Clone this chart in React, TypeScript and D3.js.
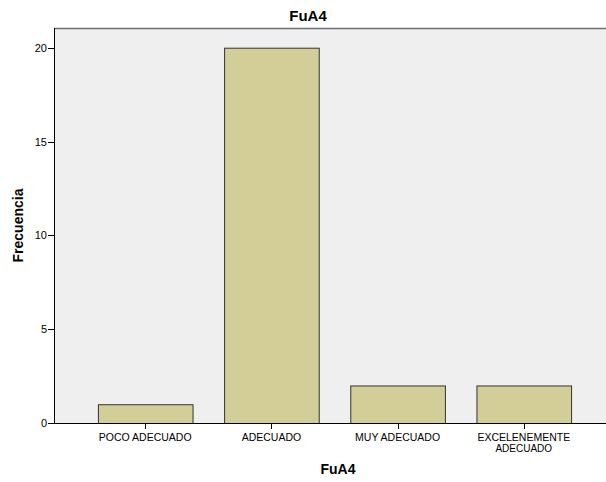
import React, { useEffect } from "react";
import * as d3 from "d3";

const categories: string[][] = [["POCO ADECUADO"], ["ADECUADO"], ["MUY ADECUADO"], ["EXCELENEMENTE", "ADECUADO"]];
const values: number[] = [1, 20, 2, 2];
const yTicks: number[] = [0, 5, 10, 15, 20];
const title = "FuA4";
const xTitle = "FuA4";
const yTitle = "Frecuencia";

const W = 606;
const H = 482;
const left = 54;
const top = 28;
const bottom = 423;
const right = 615;

export default function App() {
  useEffect(() => {
    document.body.style.margin = "0";
  }, []);
  const x = d3
    .scaleBand<number>()
    .domain(values.map((_, i) => i))
    .range([left, right])
    .paddingInner(0.25)
    .paddingOuter(0.348);
  const y = d3.scaleLinear().domain([0, 21.05]).range([bottom, top]);
  const font = "'Liberation Sans', Arial, sans-serif";
  return (
    <svg width={W} height={H} style={{ display: "block" }} fontFamily={font}>
      <rect x={0} y={0} width={W} height={H} fill="#ffffff" />
      <rect x={left} y={top} width={right - left} height={bottom - top} fill="#efefef" />
      <line x1={left} x2={right} y1={top + 0.5} y2={top + 0.5} stroke="#6e6e6e" strokeWidth={1.5} />
      <text x={308} y={21} textAnchor="middle" fontSize={15} fontWeight="bold" fill="#000">
        {title}
      </text>
      {values.map((v, i) => (
        <rect
          key={i}
          x={(x(i) as number) + 0.5}
          y={y(v) + 0.5}
          width={x.bandwidth()}
          height={y(0) - y(v)}
          fill="#d3ce97"
          stroke="#333333"
          strokeWidth={1}
        />
      ))}
      <line x1={left + 0.5} x2={left + 0.5} y1={top} y2={bottom + 0.5} stroke="#000" strokeWidth={1} />
      <line x1={left} x2={right} y1={bottom + 0.5} y2={bottom + 0.5} stroke="#000" strokeWidth={1} />
      {yTicks.map((t) => (
        <g key={t}>
          <line x1={left - 6} x2={left} y1={Math.round(y(t)) + 0.5} y2={Math.round(y(t)) + 0.5} stroke="#000" />
          <text x={left - 7} y={y(t) + 4} textAnchor="end" fontSize={11} fill="#000">
            {t}
          </text>
        </g>
      ))}
      {categories.map((lines, i) => {
        const cx = (x(i) as number) + x.bandwidth() / 2;
        return (
          <g key={i}>
            <line x1={Math.round(cx) + 0.5} x2={Math.round(cx) + 0.5} y1={bottom} y2={bottom + 6} stroke="#000" />
            {lines.map((l, j) => (
              <text key={j} x={cx} y={440.5 + j * 11} textAnchor="middle" fontSize={j === 0 ? 10.5 : 10} fill="#000">
                {l}
              </text>
            ))}
          </g>
        );
      })}
      <text x={338} y={474} textAnchor="middle" fontSize={14} fontWeight="bold" fill="#000">
        {xTitle}
      </text>
      <text
        transform={`translate(23, ${(top + bottom) / 2}) rotate(-90)`}
        textAnchor="middle"
        fontSize={14}
        fontWeight="bold"
        fill="#000"
      >
        {yTitle}
      </text>
    </svg>
  );
}
